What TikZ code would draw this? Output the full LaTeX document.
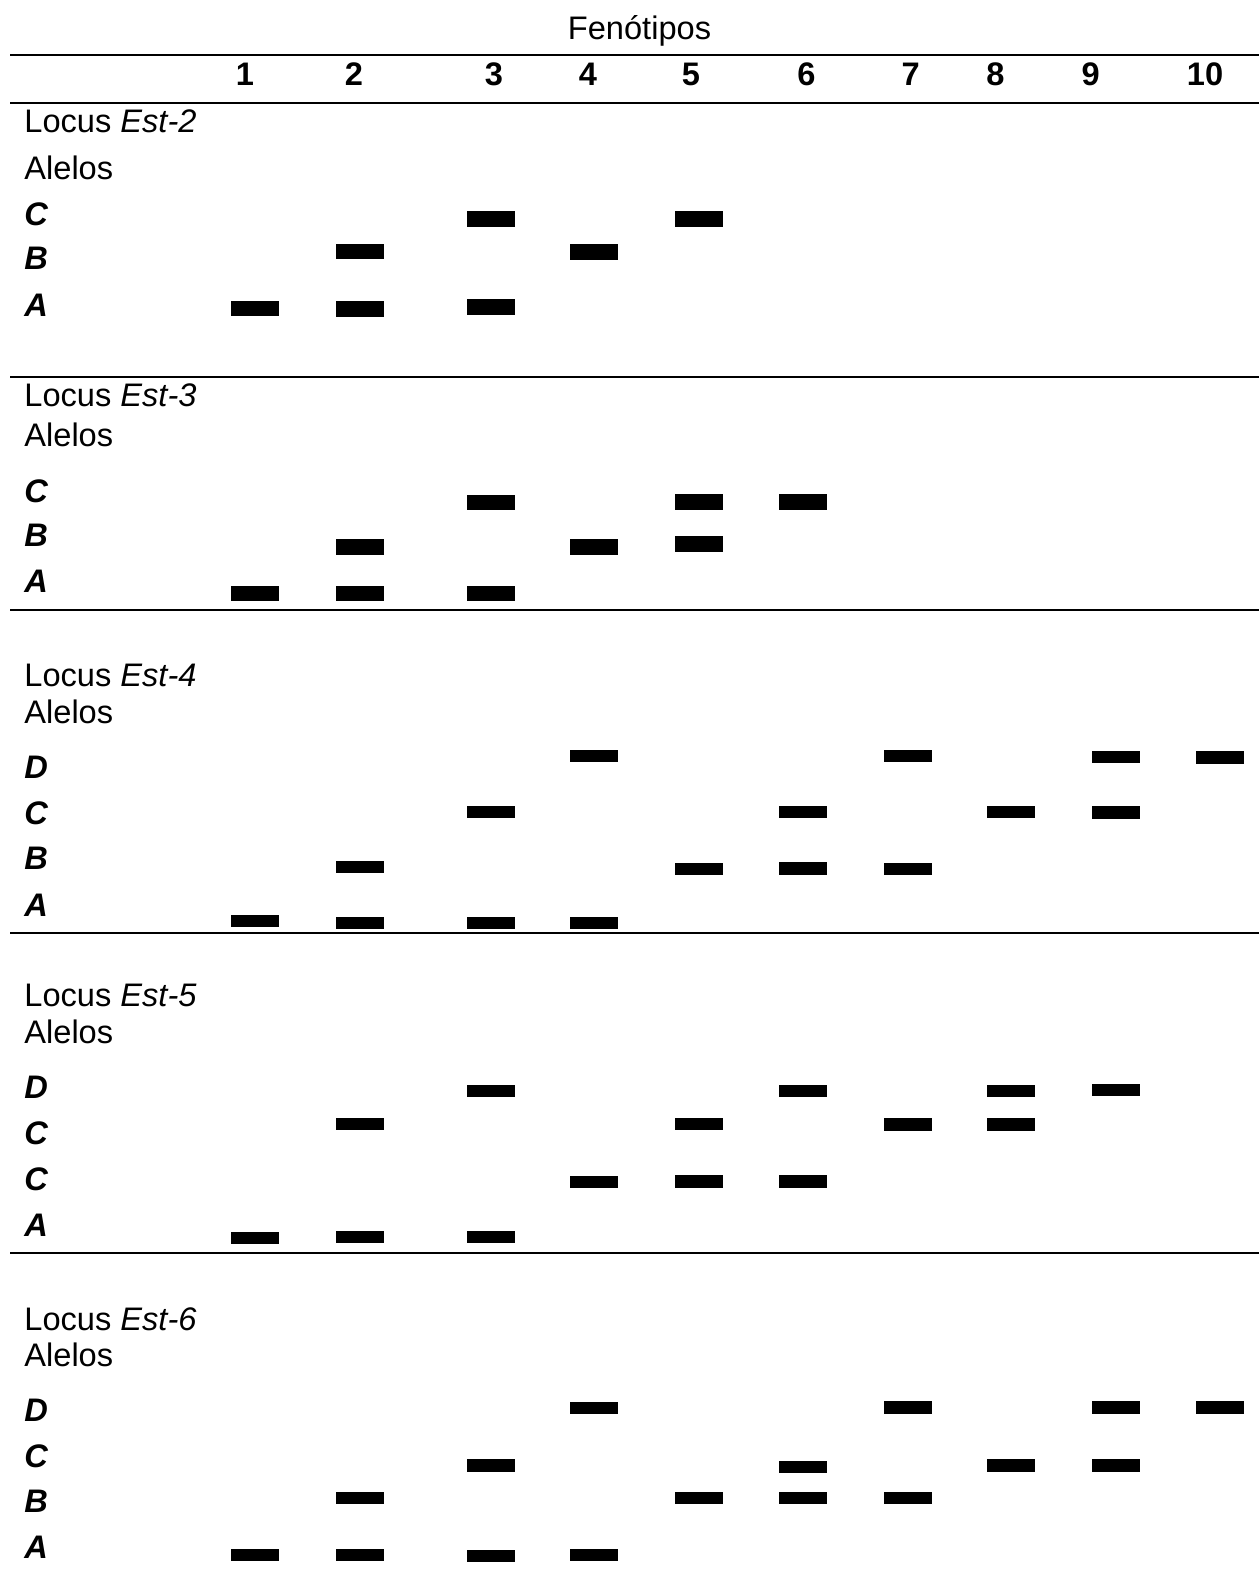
\documentclass[tikz,border=0pt]{standalone}
\usepackage{fontspec}
\setmainfont{Liberation Sans}
\begin{document}
\begin{tikzpicture}[x=0.5pt,y=-0.5pt,
  lbl/.style={anchor=base west,inner sep=0pt,font=\fontsize{16.3}{19}\selectfont},
  allele/.style={anchor=base west,inner sep=0pt,font=\fontsize{16.3}{19}\selectfont\bfseries\itshape},
  colnum/.style={anchor=base,inner sep=0pt,font=\fontsize{16.3}{19}\selectfont\bfseries},
  rule/.style={line width=1pt},
  band/.style={fill=black}]
\useasboundingbox (0,0) rectangle (1259,1573);
% rules
\foreach \yy in {55.5,102.7,377,610,932.7,1253}{\draw[rule] (10,\yy) -- (1259,\yy);}
% header
\node[anchor=base,inner sep=0pt,font=\fontsize{16.3}{19}\selectfont] (title) at (639.5,39.3) {Fenótipos};
\foreach \n/\xx in {1/245,2/354,3/494,4/588,5/691,6/806.5,7/910.6,8/995.5,9/1090.6,10/1205}
  {\node[colnum] (n\n) at (\xx,86) {\n};}
% labels
\node[lbl] (l2) at (24,132.7) {Locus \textit{Est-2}};
\node[lbl] (a2) at (24,179.3) {Alelos};
\node[allele] (l2c) at (24,225.3) {C};
\node[allele] (l2b) at (24,269.3) {B};
\node[allele] (l2a) at (24,316) {A};
\node[lbl] (l3) at (24,406.7) {Locus \textit{Est-3}};
\node[lbl] (a3) at (24,446.7) {Alelos};
\node[allele] (l3c) at (24,502.7) {C};
\node[allele] (l3b) at (24,546) {B};
\node[allele] (l3a) at (24,592.7) {A};
\node[lbl] (l4) at (24,686.7) {Locus \textit{Est-4}};
\node[lbl] (a4) at (24,723.3) {Alelos};
\node[allele] (l4d) at (24,778.3) {D};
\node[allele] (l4c) at (24,824.3) {C};
\node[allele] (l4b) at (24,869.3) {B};
\node[allele] (l4a) at (24,916) {A};
\node[lbl] (l5) at (24,1006.7) {Locus \textit{Est-5}};
\node[lbl] (a5) at (24,1043.3) {Alelos};
\node[allele] (l5d) at (24,1098.3) {D};
\node[allele] (l5c) at (24,1144.3) {C};
\node[allele] (l5cc) at (24,1190) {C};
\node[allele] (l5a) at (24,1236.7) {A};
\node[lbl] (l6) at (24,1330) {Locus \textit{Est-6}};
\node[lbl] (a6) at (24,1366.7) {Alelos};
\node[allele] (l6d) at (24,1421.7) {D};
\node[allele] (l6c) at (24,1467.7) {C};
\node[allele] (l6b) at (24,1512.3) {B};
\node[allele] (l6a) at (24,1558.3) {A};
% bands: column/top/bottom
\foreach \c/\t/\b in {
  3/211.3/227, 5/211.3/227, 2/243.7/259.3, 4/244/259.7,
  1/300.7/316, 2/301.3/316.7, 3/299.3/315,
  3/494.7/510.3, 5/494.3/510.3, 6/494.3/510.3,
  2/539.3/555, 4/539.3/555, 5/536.3/552.3,
  1/585.7/601.3, 2/585.7/601.3, 3/585.7/601.3,
  4/750/762, 7/750/762, 9/751/763.3, 10/751.3/763.7,
  3/806/818.3, 6/806/818.3, 8/805.7/817.7, 9/806/818.7,
  2/861.3/873.3, 5/863/875, 6/862.3/875, 7/863/875,
  1/915.3/927.3, 2/917/929, 3/917/929, 4/917/929,
  3/1085/1096.7, 6/1085.3/1097.3, 8/1085.3/1097.3, 9/1083.7/1095.7,
  2/1118.3/1130.3, 5/1118/1130.3, 7/1118.3/1130.7, 8/1118.3/1130.7,
  4/1175.7/1187.7, 5/1175.3/1187.7, 6/1175.3/1187.7,
  1/1232/1244, 2/1231.3/1243.3, 3/1231.3/1243.3,
  4/1402/1414.3, 7/1401.3/1413.7, 9/1401.3/1413.7, 10/1401.3/1413.7,
  3/1459.3/1471.7, 6/1461.3/1473.3, 8/1459.3/1471.7, 9/1459.3/1471.7,
  2/1492/1504, 5/1492.3/1504.3, 6/1492.3/1504.3, 7/1492.3/1504.3,
  1/1549.3/1561.3, 2/1549.3/1561.3, 3/1550.3/1562.3, 4/1549.3/1561.3}
{
  \pgfmathsetmacro\xc{{254.7,360,490.6,594,698.8,802.9,907.5,1011,1115.5,1219.6}[\c-1]}
  \fill[band] (\xc-24,\t) rectangle (\xc+24,\b);
}
\end{tikzpicture}
\end{document}
